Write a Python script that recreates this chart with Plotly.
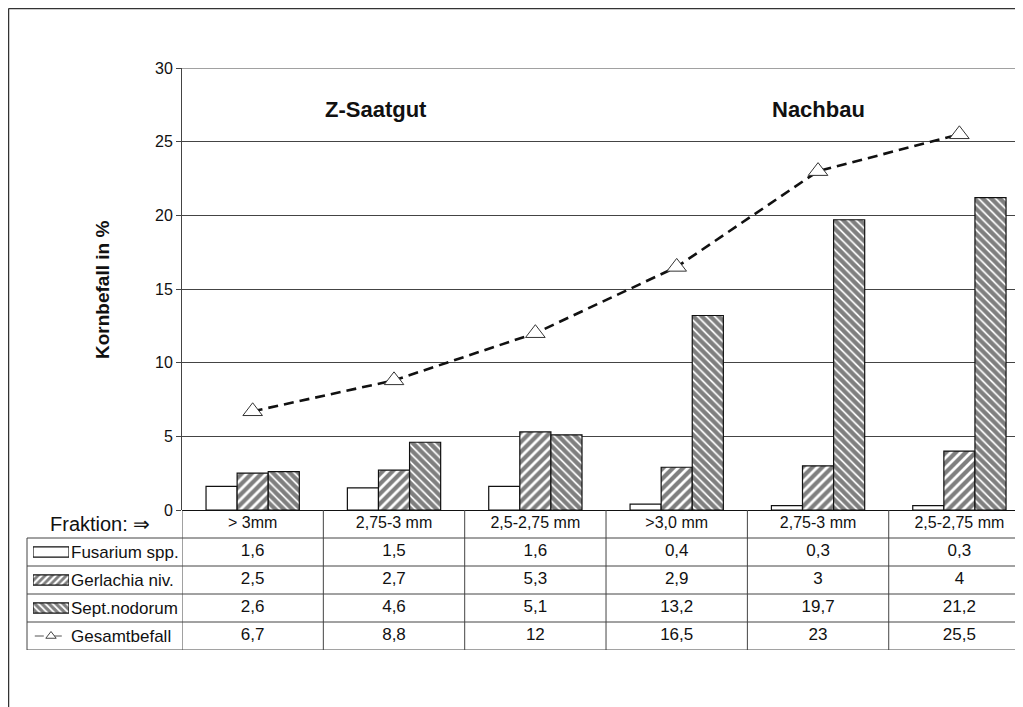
import plotly.graph_objects as go

# ---------------- data ----------------
fractions = ["> 3mm", "2,75-3 mm", "2,5-2,75 mm", ">3,0 mm", "2,75-3 mm", "2,5-2,75 mm"]
fusarium = [1.6, 1.5, 1.6, 0.4, 0.3, 0.3]
gerlachia = [2.5, 2.7, 5.3, 2.9, 3, 4]
septoria = [2.6, 4.6, 5.1, 13.2, 19.7, 21.2]
gesamt = [6.7, 8.8, 12, 16.5, 23, 25.5]
series_names = ["Fusarium spp.", "Gerlachia niv.", "Sept.nodorum", "Gesamtbefall"]
group_titles = ["Z-Saatgut", "Nachbau"]
y_ticks = [0, 5, 10, 15, 20, 25, 30]

# page offset (default body margin of the html page)
OFF = 8
W, H = 1023 - OFF, 707 - OFF
ML, MR, MT, MB = 0, 0, 68 - OFF, 707 - 650
PW, PH = W - ML - MR, H - MT - MB
FONT = "Arial, Liberation Sans, sans-serif"
INK = "#111111"
GRID = "#444444"


def px_x(p):
    """reference-screen x pixel -> paper x"""
    return (p - OFF - ML) / PW


def px_y(p):
    """reference-screen y pixel -> paper y"""
    return (H - MB - (p - OFF)) / PH


def fmt(v):
    return str(int(v)) if float(v).is_integer() else str(v).replace(".", ",")


xpos = list(range(len(fractions)))
plot_left = 182
main_bottom = 510
dom_split = px_y(main_bottom)

fig = go.Figure()

bar_line = dict(color=INK, width=1.2)
fig.add_trace(go.Bar(x=xpos, y=fusarium, name=series_names[0],
                     marker=dict(color="white", line=bar_line), showlegend=False))
fig.add_trace(go.Bar(x=xpos, y=gerlachia, name=series_names[1],
                     marker=dict(color="white", line=bar_line,
                                 pattern=dict(shape="/", fgcolor="black", bgcolor="white",
                                              size=7, solidity=0.6)),
                     showlegend=False))
fig.add_trace(go.Bar(x=xpos, y=septoria, name=series_names[2],
                     marker=dict(color="white", line=bar_line,
                                 pattern=dict(shape="\\", fgcolor="black", bgcolor="white",
                                              size=6, solidity=0.7)),
                     showlegend=False))
fig.add_trace(go.Scatter(x=xpos, y=gesamt, name=series_names[3], mode="lines+markers",
                         line=dict(color=INK, width=2.6, dash="10px,6px", shape="linear"),
                         marker=dict(symbol="triangle-up", size=17, color="white",
                                     line=dict(color="#333333", width=1)),
                         showlegend=False))

# ---------------- data table (below the chart) ----------------
rows = [fusarium, gerlachia, septoria, gesamt]
fig.add_trace(go.Scatter(x=xpos, y=[0] * len(xpos), xaxis="x", yaxis="y2", mode="text",
                         text=fractions, textfont=dict(family=FONT, size=16, color=INK),
                         showlegend=False, hoverinfo="skip"))
for r, vals in enumerate(rows, start=1):
    fig.add_trace(go.Scatter(x=xpos, y=[r] * len(xpos), xaxis="x", yaxis="y2", mode="text",
                             text=[fmt(v) for v in vals],
                             textfont=dict(family=FONT, size=17, color=INK),
                             showlegend=False, hoverinfo="skip"))

# legend keys in the first table column
fig.add_trace(go.Bar(x=[1], y=[1], orientation="h", xaxis="x3", yaxis="y2", width=0.36,
                     marker=dict(color="white", line=dict(color=INK, width=1.2)),
                     showlegend=False, hoverinfo="skip"))
fig.add_trace(go.Bar(x=[1], y=[2], orientation="h", xaxis="x3", yaxis="y2", width=0.36,
                     marker=dict(color="white", line=dict(color=INK, width=1.2),
                                 pattern=dict(shape="/", fgcolor="black", bgcolor="white",
                                              size=5, solidity=0.55)),
                     showlegend=False, hoverinfo="skip"))
fig.add_trace(go.Bar(x=[1], y=[3], orientation="h", xaxis="x3", yaxis="y2", width=0.36,
                     marker=dict(color="white", line=dict(color=INK, width=1.2),
                                 pattern=dict(shape="\\", fgcolor="black", bgcolor="white",
                                              size=5, solidity=0.65)),
                     showlegend=False, hoverinfo="skip"))
fig.add_trace(go.Scatter(x=[0.05, 0.95], y=[4, 4], xaxis="x3", yaxis="y2", mode="lines",
                         line=dict(color="#555555", width=1, dash="dash"),
                         showlegend=False, hoverinfo="skip"))
fig.add_trace(go.Scatter(x=[0.5], y=[4], xaxis="x3", yaxis="y2", mode="markers",
                         marker=dict(symbol="triangle-up", size=9, color="white",
                                     line=dict(color="#444444", width=1)),
                         showlegend=False, hoverinfo="skip"))

shapes = []
# top gridline of the value axis (plotly drops gridlines on the plot edge)
shapes.append(dict(type="line", xref="paper", yref="y", x0=px_x(plot_left), x1=1,
                   y0=y_ticks[-1], y1=y_ticks[-1], layer="below",
                   line=dict(color=GRID, width=1)))
# table row borders
for yb in [0.5, 1.5, 2.5, 3.5, 4.5]:
    shapes.append(dict(type="line", xref="paper", yref="y2", x0=px_x(27), x1=1,
                       y0=yb, y1=yb, line=dict(color=GRID, width=1)))
# left border of the label column
shapes.append(dict(type="line", xref="paper", yref="y2", x0=px_x(27), x1=px_x(27),
                   y0=0.5, y1=4.5, line=dict(color=GRID, width=1)))
# category dividers
for i in range(len(fractions)):
    shapes.append(dict(type="line", xref="x", yref="y2", x0=i - 0.5, x1=i - 0.5,
                       y0=-0.5, y1=4.5, line=dict(color=GRID, width=1)))
# outer chart border
shapes.append(dict(type="line", xref="paper", yref="paper", x0=px_x(8.5), x1=px_x(8.5),
                   y0=-0.2, y1=px_y(8.6), line=dict(color="#333333", width=1.5)))
shapes.append(dict(type="line", xref="paper", yref="paper", x0=px_x(8.5), x1=1.05,
                   y0=px_y(8.6), y1=px_y(8.6), line=dict(color="#333333", width=1.5)))

annotations = [
    dict(text="<b>" + group_titles[0] + "</b>", xref="paper", yref="paper",
         x=px_x(376), y=px_y(110), xanchor="center", yanchor="middle", showarrow=False,
         font=dict(family=FONT, size=22, color=INK)),
    dict(text="<b>" + group_titles[1] + "</b>", xref="paper", yref="paper",
         x=px_x(818), y=px_y(110), xanchor="center", yanchor="middle", showarrow=False,
         font=dict(family=FONT, size=22, color=INK)),
    dict(text="<b>Kornbefall in %</b>", xref="paper", yref="paper",
         x=px_x(102), y=px_y(290), xanchor="center", yanchor="middle", textangle=-90,
         showarrow=False, font=dict(family=FONT, size=19, color=INK)),
    dict(text="Fraktion: \u21d2", xref="paper", yref="y2", x=px_x(48), y=0,
         xanchor="left", yanchor="middle", showarrow=False,
         font=dict(family=FONT, size=20, color=INK)),
]
for r, name in enumerate(series_names, start=1):
    annotations.append(dict(text=name, xref="paper", yref="y2", x=px_x(69), y=r,
                            xanchor="left", yanchor="middle", showarrow=False,
                            font=dict(family=FONT, size=17, color=INK)))

fig.update_layout(
    width=W, height=H,
    margin=dict(l=ML, r=MR, t=MT, b=MB, pad=0),
    paper_bgcolor="white", plot_bgcolor="white",
    barmode="group", bargap=0.34, bargroupgap=0,
    font=dict(family=FONT, size=16, color=INK),
    xaxis=dict(domain=[px_x(plot_left), 1], range=[-0.5, 5.45], showticklabels=False,
               ticks="", showgrid=False, zeroline=False, showline=False, anchor="y"),
    yaxis=dict(domain=[dom_split, 1], range=[0, 30], tickvals=y_ticks, ticks="outside",
               ticklen=5, tickcolor=GRID, showline=True, linecolor=GRID, linewidth=1,
               showgrid=True, gridcolor=GRID, gridwidth=1, zeroline=True,
               zerolinecolor=INK, zerolinewidth=1, tickfont=dict(size=16, color=INK),
               anchor="x"),
    yaxis2=dict(domain=[0, dom_split], range=[4.5, -0.5], visible=False, anchor="x"),
    xaxis3=dict(domain=[px_x(33), px_x(69)], range=[0, 1], visible=False, anchor="y2"),
    shapes=shapes,
    annotations=annotations,
    showlegend=False,
)

fig.write_html("out.html")
